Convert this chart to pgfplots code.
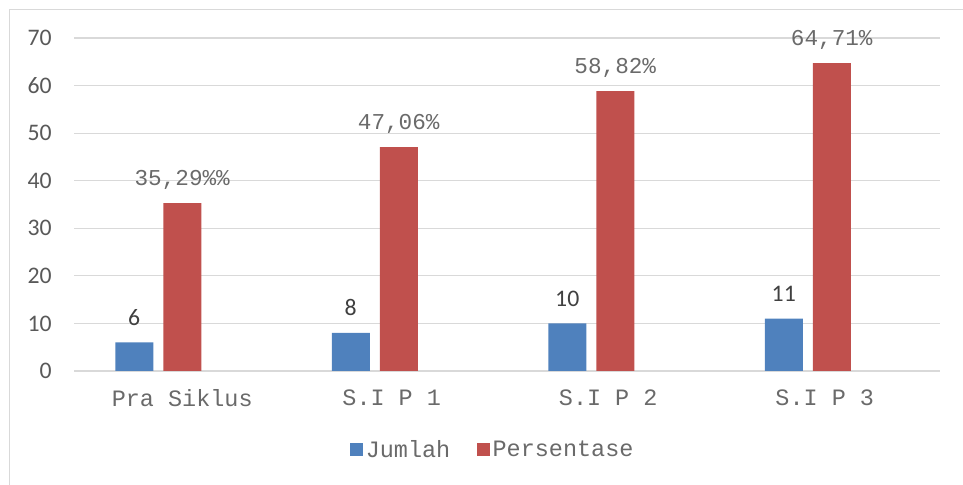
\documentclass[border=0pt]{standalone}
\usepackage{pgfplots}
\pgfplotsset{compat=1.18}
\usepackage{fontspec}
\setmainfont{Carlito}
\newfontfamily\mono{Liberation Mono}
\definecolor{cblue}{HTML}{4F81BD}
\definecolor{cred}{HTML}{C0504D}
\definecolor{gridc}{HTML}{D9D9D9}
\definecolor{txt}{HTML}{595959}
\definecolor{mtxt}{HTML}{6A6A6A}
\definecolor{lbl}{HTML}{404040}
\begin{document}
\begin{tikzpicture}
\path[use as bounding box] (0pt,0pt) rectangle (722.25pt,363.75pt);
\draw[gridc, line width=1.2pt] (7.1pt,0pt) -- (7.1pt,356.6pt) -- (722.25pt,356.6pt);
\begin{axis}[
  /pgf/number format/assume math mode=true,
  at={(55.5pt,85.5pt)}, anchor=south west,
  scale only axis, width=649.5pt, height=249.75pt,
  xmin=-0.5, xmax=3.5, ymin=0, ymax=70,
  ytick={0,10,...,70},
  ymajorgrids, grid style={gridc, line width=0.9pt},
  axis line style={draw=none},
  major tick length=0pt,
  xtick={0,1,2,3},
  xticklabels={Pra Siklus, {S.I P 1\hphantom{0}}, {S.I P 2\hphantom{0}}, {S.I P 3\hphantom{0}}},
  xticklabel style={font=\mono\fontsize{17.6}{20}\selectfont, text=mtxt, inner sep=0pt, anchor=north, yshift=-14pt},
  yticklabel style={font=\fontsize{17.8}{20}\selectfont, text=txt, inner sep=0pt, anchor=east, xshift=-16.5pt},
  ybar, bar width=0.1755,
  clip=false,
  legend style={at={(0.484,-0.237)}, anchor=center, draw=none, legend columns=2,
    font=\mono\fontsize{17.6}{20}\selectfont, text=mtxt,
    /tikz/every even column/.append style={column sep=18pt}},
  legend image code/.code={\fill[#1] (0pt,-4.9pt) rectangle (9.75pt,4.9pt);},
]
\addplot[fill=cblue, draw=none, bar shift=-0.2217,
  nodes near coords,
  nodes near coords style={font=\fontsize{17.8}{20}\selectfont, text=lbl, anchor=base, inner sep=0pt, yshift=13pt}]
  coordinates {(0,6) (1,8) (2,10) (3,11)};
\addlegendentry{Jumlah}
\addplot[fill=cred, draw=none, bar shift=0,
  point meta=explicit symbolic,
  nodes near coords,
  nodes near coords style={font=\mono\fontsize{17}{20}\selectfont, text=mtxt, anchor=base, inner sep=0pt, yshift=13.5pt}]
  coordinates {(0,35.29) [35,29\%\%] (1,47.06) [47,06\%] (2,58.82) [58,82\%] (3,64.71) [64,71\%]};
\addlegendentry{Persentase}
\end{axis}
\end{tikzpicture}
\end{document}
